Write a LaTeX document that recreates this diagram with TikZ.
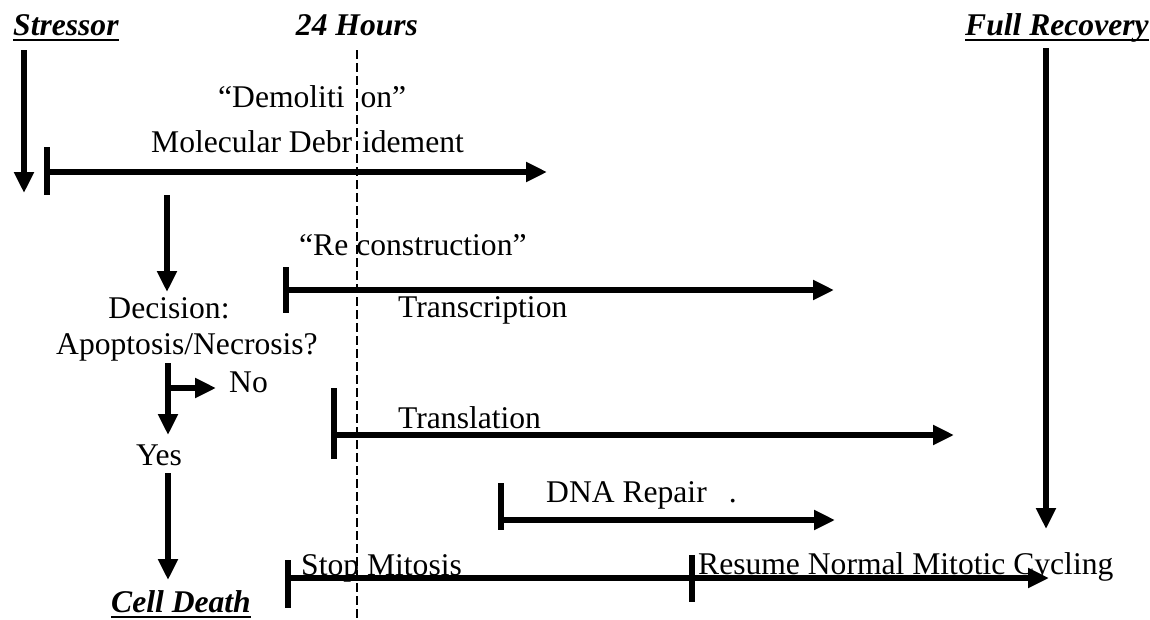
\documentclass[tikz,border=0pt]{standalone}
\usepackage{fontspec}
\setmainfont{Liberation Serif}
\usetikzlibrary{arrows.meta,positioning}

\begin{document}
\begin{tikzpicture}[
  x=1pt,y=-1pt,
  line cap=butt,
  >={Triangle[length=21pt,width=19pt]},
  shaft/.style={draw=black,line width=6pt},
  tick/.style={draw=black,line width=6pt},
  hours/.style={draw=black,line width=2.4pt,dash pattern=on 9pt off 4pt},
  txt/.style={inner sep=0pt,font=\fontsize{31.6}{36}\selectfont},
  head/.style={inner sep=0pt,font=\fontsize{31.6}{36}\selectfont\bfseries\itshape},
  uline/.style={draw=black,line width=2.4pt}
]
\useasboundingbox (0,0) rectangle (1150,619);

% headings
\node[head,anchor=base west] (stressor) at (13,35)   {Stressor};
\node[head,anchor=base]      (hours)    at (357,35)  {24 Hours};
\node[head,anchor=base west] (recovery) at (965,35)  {Full Recovery};
\node[head,anchor=base]      (death)    at (181,612) {Cell Death};
\foreach \n in {stressor,recovery,death}
  \draw[uline] ([yshift=-5pt]\n.base west) -- ([yshift=-5pt]\n.base east);

% decision column
\node[txt,anchor=base] (decision) at (169,318) {Decision:};
\node[txt,anchor=base] (question) at (187,354) {Apoptosis/Necrosis?};
\node[txt,anchor=base west] (no)  at (229,392) {No};
\node[txt,anchor=base] (yes)      at (159,465) {Yes};

\coordinate (s0) at (24,50);   \coordinate (s1) at (24,193);
\coordinate (d0) at (167,195); \coordinate (d1) at (167,292);
\coordinate (q0) at (168,363); \coordinate (q1) at (168,435);
\coordinate (y0) at (168,473); \coordinate (y1) at (168,580);
\coordinate (nb) at (168,388); \coordinate (ne) at (216,388);
\draw[shaft,->] (s0) -- (s1);
\draw[shaft,->] (d0) -- (d1);
\draw[shaft,->] (q0) -- (q1);
\draw[shaft,->] (nb) -- (ne);
\draw[shaft,->] (y0) -- (y1);

% full recovery
\coordinate (f0) at (1046,48); \coordinate (f1) at (1046,529);
\draw[shaft,->] (f0) -- (f1);

% demolition
\node[txt,anchor=base west] (demol) at (218,107) {``Demoliti\hspace{16pt}on''};
\node[txt,anchor=base west] (debr)  at (151,152) {Molecular Debr\hspace{10pt}idement};
\coordinate (m0) at (47,172); \coordinate (m1) at (547,172);
\draw[tick] (47,147) -- (47,195);
\draw[shaft,->] (m0) -- (m1);

% reconstruction
\node[txt,anchor=base west] (recon) at (299,255) {``Re\hspace{8pt}construction''};
\node[txt,anchor=base west] (transc) at (398,317) {Transcription};
\coordinate (r0) at (286,290); \coordinate (r1) at (834,290);
\draw[tick] (286,267) -- (286,313);
\draw[shaft,->] (r0) -- (r1);

\node[txt,anchor=base west] (transl) at (398,428) {Translation};
\coordinate (t0) at (334,435); \coordinate (t1) at (954,435);
\draw[tick] (334,388) -- (334,459);
\draw[shaft,->] (t0) -- (t1);

\node[txt,anchor=base west] (dna) at (546,502) {DNA Repair\hspace{22pt}.};
\coordinate (n0) at (501,520); \coordinate (n1) at (835,520);
\draw[tick] (501,483) -- (501,530);
\draw[shaft,->] (n0) -- (n1);

% mitosis
\node[txt,anchor=base west] (stop)   at (301,575) {Stop Mitosis};
\node[txt,anchor=base west] (resume) at (698,574) {Resume Normal Mitotic Cycling};
\coordinate (p0) at (288,578); \coordinate (p1) at (692,578); \coordinate (p2) at (1049,578);
\draw[tick] (288,560) -- (288,608);
\draw[tick] (692,555) -- (692,602);
\draw[shaft] (p0) -- (p1);
\draw[shaft,->] (p1) -- (p2);

% 24 hour mark
\draw[hours] (357,50) -- (357,619);

\end{tikzpicture}
\end{document}
